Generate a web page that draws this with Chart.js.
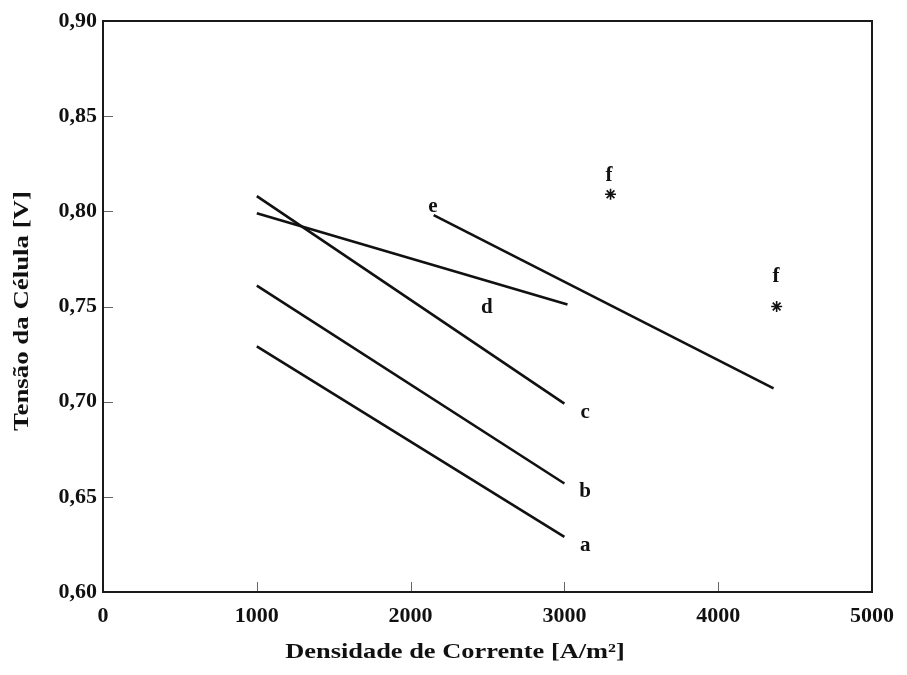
<!DOCTYPE html>
<html lang="pt">
  <head>
    <meta charset="UTF-8" />
    <title>Tensão da Célula x Densidade de Corrente</title>
    <script src="https://cdn.jsdelivr.net/npm/chart.js"></script>
    <style>
      body { margin: 0; background: #fff; }
      #wrap { width: 907px; height: 675px; }
    </style>
  </head>
  <body>
    <div id="wrap">
      <canvas id="c"></canvas>
    </div>
    <script>
      // values
      const xA = [1000, 3000], yA = [0.729, 0.629];
      const xB = [1000, 3000], yB = [0.761, 0.657];
      const xC = [1000, 3000], yC = [0.808, 0.699];
      const xD = [1000, 3020], yD = [0.799, 0.751];
      const xE = [2150, 4360], yE = [0.798, 0.707];
      const xF = [3300, 4380], yF = [0.809, 0.750];

      const xTicks = ["0", "1000", "2000", "3000", "4000", "5000"];
      const yTicks = ["0,60", "0,65", "0,70", "0,75", "0,80", "0,85", "0,90"];

      // curve labels, in data units
      const curveLabels = [
        { t: "a", x: 3135, y: 0.6245 },
        { t: "b", x: 3135, y: 0.6525 },
        { t: "c", x: 3135, y: 0.6945 },
        { t: "d", x: 2495, y: 0.7492 },
        { t: "e", x: 2145, y: 0.8025 },
        { t: "f", x: 3290, y: 0.8190 },
        { t: "f", x: 4376, y: 0.7655 },
      ];

      const xTitle = "Densidade de Corrente [A/m²]";
      const yTitle = "Tensão da Célula [V]";

      const pts = (xs, ys) => xs.map((x, i) => ({ x, y: ys[i] }));
      const serif = "'Liberation Serif', 'Times New Roman', serif";

      const line = (xs, ys) => ({
        data: pts(xs, ys),
        showLine: true,
        borderColor: "#111",
        borderWidth: 2.6,
        pointRadius: 0,
        fill: false,
      });

      const frame = {
        id: "frame",
        afterDraw(chart) {
          const { ctx, chartArea: a, scales } = chart;
          ctx.save();
          ctx.strokeStyle = "#666";
          ctx.lineWidth = 1;
          ctx.beginPath();
          scales.x.ticks.forEach((t) => {
            if (t.value <= 0 || t.value >= 5000) return;
            const px = Math.round(scales.x.getPixelForValue(t.value)) + 0.5;
            ctx.moveTo(px, a.bottom);
            ctx.lineTo(px, a.bottom - 10);
          });
          scales.y.ticks.forEach((t) => {
            if (t.value <= 0.6001 || t.value >= 0.8999) return;
            const py = Math.round(scales.y.getPixelForValue(t.value)) + 0.5;
            ctx.moveTo(a.left, py);
            ctx.lineTo(a.left + 10, py);
          });
          ctx.stroke();

          ctx.strokeStyle = "#1a1a1a";
          ctx.lineWidth = 2;
          ctx.strokeRect(a.left, a.top, a.right - a.left, a.bottom - a.top);

          ctx.fillStyle = "#111";
          ctx.font = "bold 21px " + serif;
          ctx.textAlign = "center";
          ctx.textBaseline = "middle";
          curveLabels.forEach((l) => {
            ctx.fillText(l.t, scales.x.getPixelForValue(l.x), scales.y.getPixelForValue(l.y));
          });

          // axis titles (the scan is a little stretched, so widen them)
          ctx.font = "bold 22px " + serif;
          ctx.save();
          ctx.translate(455, 652);
          ctx.scale(1.2, 1);
          ctx.fillText(xTitle, 0, 0);
          ctx.restore();

          ctx.save();
          ctx.translate(22, 311);
          ctx.rotate(-Math.PI / 2);
          ctx.scale(1.22, 1);
          ctx.fillText(yTitle, 0, 0);
          ctx.restore();
          ctx.restore();
        },
      };

      new Chart(document.getElementById("c"), {
        type: "scatter",
        data: {
          datasets: [
            line(xA, yA),
            line(xB, yB),
            line(xC, yC),
            line(xD, yD),
            line(xE, yE),
            {
              data: pts(xF, yF),
              pointStyle: "star",
              pointRadius: 5.5,
              borderColor: "#111",
              borderWidth: 1.6,
            },
          ],
        },
        options: {
          responsive: true,
          maintainAspectRatio: false,
          animation: false,
          layout: { padding: { top: 21, right: 35, left: 0, bottom: 0 } },
          plugins: {
            legend: { display: false },
            tooltip: { enabled: false },
          },
          scales: {
            x: {
              type: "linear",
              min: 0,
              max: 5000,
              afterFit: (s) => { s.height = 83; },
              grid: { display: false, drawTicks: false },
              border: { display: false },
              ticks: {
                stepSize: 1000,
                padding: 11,
                color: "#111",
                font: { family: serif, size: 22, weight: "bold" },
                callback: (v) => xTicks[Math.round(v / 1000)],
              },
            },
            y: {
              min: 0.6,
              max: 0.9,
              afterFit: (s) => { s.width = 103; },
              grid: { display: false, drawTicks: false },
              border: { display: false },
              ticks: {
                stepSize: 0.05,
                padding: 6,
                color: "#111",
                font: { family: serif, size: 22, weight: "bold" },
                callback: (v) => yTicks[Math.round((v - 0.6) / 0.05)],
              },
            },
          },
        },
        plugins: [frame],
      });
    </script>
  </body>
</html>
